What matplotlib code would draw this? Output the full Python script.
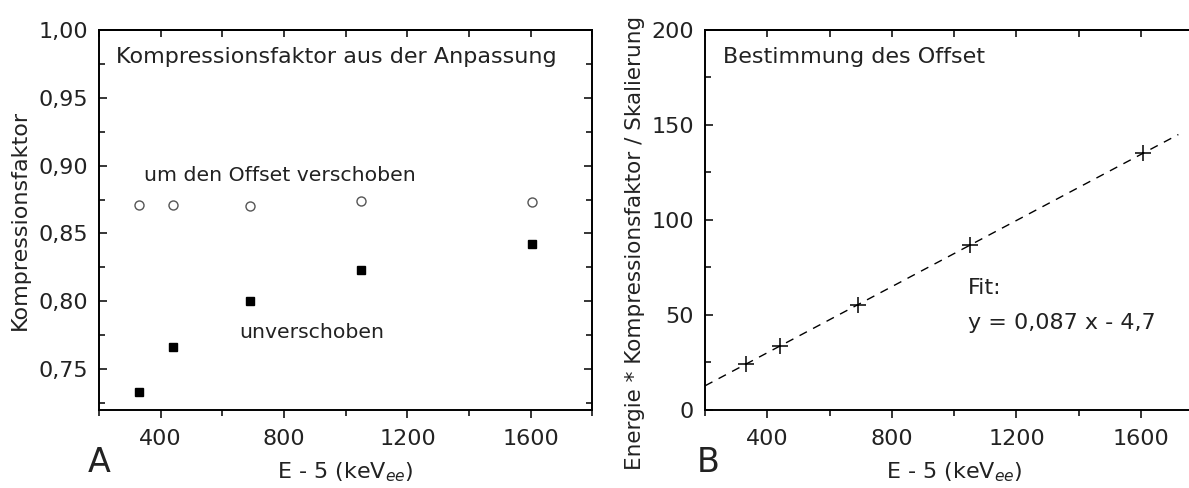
import numpy as np
import matplotlib.pyplot as plt
from matplotlib.ticker import FuncFormatter, MultipleLocator

# Messpunkte (E - 5 in keV_ee)
energie = [330, 440, 690, 1050, 1605]
kompr_unverschoben = [0.733, 0.766, 0.800, 0.823, 0.842]
kompr_verschoben = [0.871, 0.871, 0.870, 0.874, 0.873]
skaliert = [24.0, 33.6, 55.3, 86.6, 135.0]

# Geradenanpassung y = a*x + b
fit_a, fit_b = 0.087, -4.7
fit_x = [200, 1720]

plt.rcParams['font.family'] = 'DejaVu Sans'
fs = 16
txt = '#222222'


def komma(v, pos):
    return f"{v:.2f}".replace(".", ",")


def style_axes(ax):
    for s in ax.spines.values():
        s.set_linewidth(1.4)
    ax.tick_params(axis='x', which='both', direction='out', top=False, pad=8)
    ax.tick_params(axis='y', which='both', direction='in', right=True, pad=8)
    ax.tick_params(which='major', length=6, width=1.1, labelsize=fs, labelcolor=txt)
    ax.tick_params(which='minor', length=4, width=1.1)
    # Ticks auf der oberen Achse nach innen
    sec = ax.secondary_xaxis('top')
    sec.set_xticks([400, 800, 1200, 1600])
    sec.xaxis.set_minor_locator(MultipleLocator(200))
    sec.tick_params(which='both', direction='in', labeltop=False, length=5, width=1.1)
    sec.spines['top'].set_linewidth(1.4)


fig = plt.figure(figsize=(11.89, 4.88), dpi=100)

# --- A ---
axA = fig.add_axes([0.0833, 0.160, 0.415, 0.7787])
axA.plot(energie, kompr_unverschoben, 's', color='black', markersize=6)
axA.plot(energie, kompr_verschoben, 'o', markerfacecolor='white',
         markeredgecolor='#555555', markeredgewidth=1.0, markersize=6.5)
axA.set_xlim(200, 1800)
axA.set_ylim(0.72, 1.00)
axA.set_xticks([400, 800, 1200, 1600])
axA.xaxis.set_minor_locator(MultipleLocator(200))
axA.yaxis.set_major_locator(MultipleLocator(0.05))
axA.yaxis.set_minor_locator(MultipleLocator(0.025))
axA.yaxis.set_major_formatter(FuncFormatter(komma))
style_axes(axA)
axA.set_ylabel("Kompressionsfaktor", fontsize=fs, color=txt, labelpad=6)
axA.set_xlabel("E - 5 (keV$_{ee}$)", fontsize=fs, color=txt, labelpad=8)
axA.text(0.035, 0.93, "Kompressionsfaktor aus der Anpassung", transform=axA.transAxes,
         fontsize=fs, va='center', ha='left', color=txt)
axA.text(345, 0.893, "um den Offset verschoben", fontsize=14.7, ha='left', va='center', color=txt)
axA.text(655, 0.777, "unverschoben", fontsize=14.7, ha='left', va='center', color=txt)
fig.text(88 / 1189, 1 - 462 / 488, "A", fontsize=24, ha='left', va='center', color=txt)

# --- B ---
axB = fig.add_axes([0.593, 0.160, 0.419, 0.7787])
axB.plot(fit_x, [fit_a * x + fit_b for x in fit_x], '--', color='black',
         linewidth=1.0, dashes=(6, 5))
axB.plot(energie, skaliert, '+', color='black', markersize=11, markeredgewidth=1.1)
axB.set_xlim(200, 1800)
axB.set_ylim(0, 200)
axB.set_xticks([400, 800, 1200, 1600])
axB.xaxis.set_minor_locator(MultipleLocator(200))
axB.yaxis.set_major_locator(MultipleLocator(50))
axB.yaxis.set_minor_locator(MultipleLocator(25))
style_axes(axB)
axB.spines['right'].set_visible(False)
axB.set_ylabel("Energie * Kompressionsfaktor / Skalierung", fontsize=15.5, color=txt)
axB.yaxis.set_label_coords(-0.12, 0.44)
axB.set_xlabel("E - 5 (keV$_{ee}$)", fontsize=fs, color=txt, labelpad=8)
axB.text(0.035, 0.93, "Bestimmung des Offset", transform=axB.transAxes,
         fontsize=fs, va='center', ha='left', color=txt)
axB.text(1045, 64, "Fit:", fontsize=fs, ha='left', va='center', color=txt)
axB.text(1045, 46, "y = 0,087 x - 4,7", fontsize=fs, ha='left', va='center', color=txt)
fig.text(697 / 1189, 1 - 462 / 488, "B", fontsize=24, ha='left', va='center', color=txt)

fig.savefig("out.png", dpi=100)
